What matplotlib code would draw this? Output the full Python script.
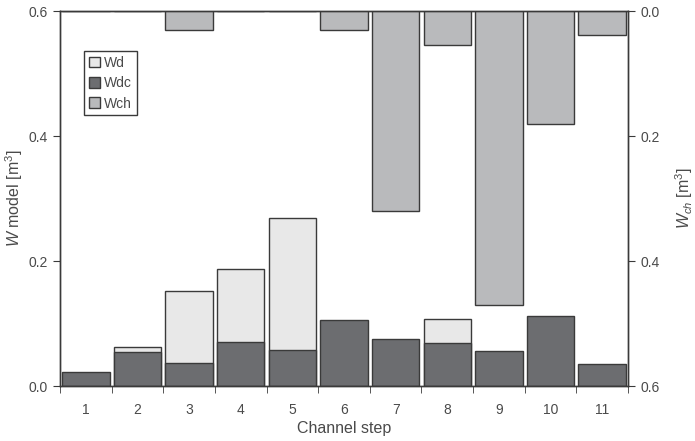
"""Channel-step volume comparison: modelled W (left) vs channel Wch (right, inverted)."""
import matplotlib
matplotlib.use("Agg")
import matplotlib.pyplot as plt
from matplotlib.ticker import FixedLocator, FormatStrFormatter

STEPS = [1, 2, 3, 4, 5, 6, 7, 8, 9, 10, 11]
WD = [0.0, 0.063, 0.152, 0.187, 0.269, 0.0, 0.0, 0.107, 0.0, 0.0, 0.0]
WDC = [0.022, 0.054, 0.037, 0.071, 0.058, 0.106, 0.075, 0.069, 0.056, 0.112, 0.035]
WCH = [0.0, 0.0, 0.030, 0.0, 0.0, 0.030, 0.320, 0.055, 0.470, 0.180, 0.039]

C_WD = "#e8e8e8"
C_WDC = "#6c6d70"
C_WCH = "#b9babc"
EDGE = "#3a3a3a"
TXT = "#4a4a4a"

plt.rcParams["font.family"] = ["Liberation Sans", "DejaVu Sans"]
plt.rcParams["font.size"] = 10
plt.rcParams["mathtext.fontset"] = "custom"
plt.rcParams["mathtext.it"] = "Liberation Sans:italic"
plt.rcParams["mathtext.rm"] = "Liberation Sans"


def main():
    fig = plt.figure(figsize=(6.95, 4.41), dpi=100)
    ax = fig.add_axes([0.0863, 0.1247, 0.8173, 0.8503])
    ax2 = ax.twinx()

    width = 0.92
    kw = dict(width=width, edgecolor=EDGE, linewidth=1.0)
    h_wd = ax.bar(STEPS, WD, color=C_WD, label="Wd", **kw)
    h_wdc = ax.bar(STEPS, WDC, color=C_WDC, label="Wdc", **kw)
    h_wch = ax2.bar(STEPS, WCH, color=C_WCH, label="Wch", **kw)

    ax.set_xlim(0.5, 11.5)
    ax.set_ylim(0, 0.6)
    ax2.set_ylim(0.6, 0)
    ax.set_yticks([0.0, 0.2, 0.4, 0.6])
    ax2.set_yticks([0.0, 0.2, 0.4, 0.6])
    ax.yaxis.set_major_formatter(FormatStrFormatter("%.1f"))
    ax2.yaxis.set_major_formatter(FormatStrFormatter("%.1f"))

    ax.set_xticks(STEPS)
    ax.xaxis.set_minor_locator(FixedLocator([s + 0.5 for s in [0] + STEPS]))
    ax.tick_params(axis="x", which="major", length=0, pad=12, colors=TXT)
    ax.tick_params(axis="x", which="minor", length=5, direction="out", color=EDGE)
    ax.tick_params(axis="y", length=5, direction="out", color=EDGE, labelcolor=TXT, pad=4)
    ax2.tick_params(axis="y", length=5, direction="out", color=EDGE, labelcolor=TXT, pad=4)

    for a in (ax, ax2):
        for sp in a.spines.values():
            sp.set_color(EDGE)
            sp.set_linewidth(1.0)

    ax.set_xlabel("Channel step", color=TXT, fontsize=11.5, labelpad=3)
    ax.set_ylabel(r"$W$ model [m$^3$]", color=TXT, fontsize=11.5, labelpad=2)
    ax2.set_ylabel(r"$W_{ch}$ [m$^3$]", color=TXT, fontsize=11.5, labelpad=10)

    leg = ax2.legend(
        [h_wd, h_wdc, h_wch],
        ["Wd", "Wdc", "Wch"],
        loc="upper left",
        bbox_to_anchor=(0.042, 0.893),
        fontsize=10,
        handlelength=0.8,
        handleheight=0.8,
        handletextpad=0.3,
        labelspacing=0.45,
        borderpad=0.35,
        borderaxespad=0,
        fancybox=False,
        framealpha=1,
        edgecolor=EDGE,
    )
    for t in leg.get_texts():
        t.set_color(TXT)

    fig.savefig("out.png", dpi=100)


if __name__ == "__main__":
    main()
